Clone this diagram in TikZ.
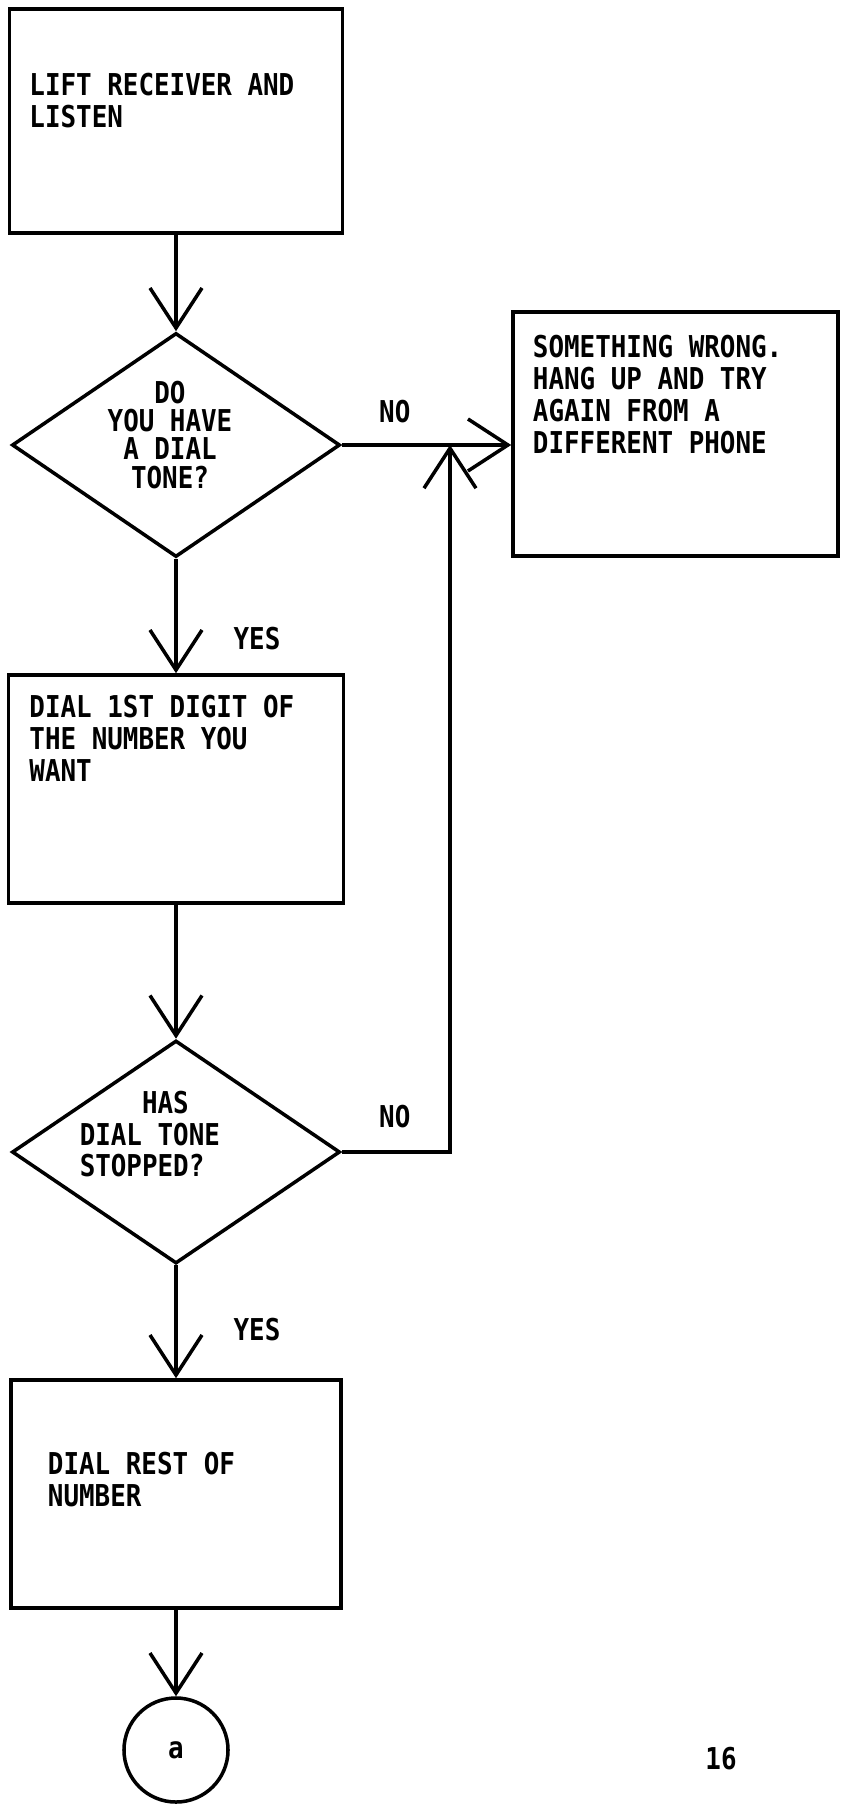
\documentclass[tikz,border=0pt]{standalone}
\usepackage{fontspec}
\newfontfamily\tw[FakeStretch=0.86]{DejaVu Sans Mono}
\usetikzlibrary{shapes.geometric,arrows.meta,positioning}

\tikzset{
  box/.style={draw, rectangle, inner sep=0pt},
  ask/.style={draw, diamond, inner sep=0pt},
  txt/.style={font=\tw\bfseries\fontsize{21.4}{22.7}\selectfont, inner sep=0pt, align=left},
  arr/.style={-{Straight Barb[length=1cm,width=1.3cm]}},
}

\begin{document}
\begin{tikzpicture}[x=0.025cm, y=-0.025cm, line width=2.5pt, line join=miter]
  \useasboundingbox (0,0) rectangle (841,1805);
  % the steps, top to bottom
  \node[box, minimum width=8.325cm, minimum height=5.6cm] (lift) at (176,121) {};
  \node[ask, minimum width=8.2cm, minimum height=5.6cm] (tone) at (176,445) {};
  \node[box, minimum width=8.125cm, minimum height=6.1cm] (wrong) at (675.5,434) {};
  \node[box, minimum width=8.375cm, minimum height=5.7cm] (first) at (176,789) {};
  \node[ask, minimum width=8.2cm, minimum height=5.575cm] (stop) at (176,1152) {};
  \node[box, minimum width=8.25cm, minimum height=5.7cm] (rest) at (176,1494) {};
  \node[draw, circle, txt, minimum size=2.6cm] (a) at (176,1750) {a};
  % what is written in them
  \node[txt, anchor=north west] (liftT) at ([shift={(20,64)}]lift.north west) {LIFT RECEIVER AND\\LISTEN};
  \node[txt, font=\tw\bfseries\fontsize{21.4}{20.2}\selectfont, align=center, anchor=north] (toneT)
    at ([shift={(-6,-66)}]tone.center) {DO\\YOU HAVE\\A DIAL\\TONE?};
  \node[txt, anchor=north west] (wrongT) at ([shift={(20,23)}]wrong.north west) {SOMETHING WRONG.\\HANG UP AND TRY\\AGAIN FROM A\\DIFFERENT PHONE};
  \node[txt, anchor=north west] (firstT) at ([shift={(21,20)}]first.north west) {DIAL 1ST DIGIT OF\\THE NUMBER YOU\\WANT};
  \node[txt, anchor=north west] (stopT) at ([shift={(-98,-63)}]stop.center) {\hphantom{DIAL}HAS\\DIAL TONE\\STOPPED?};
  \node[txt, anchor=north west] (restT) at ([shift={(37,72)}]rest.north west) {DIAL REST OF\\NUMBER};
  % the arrows
  \draw[arr] (lift.south) -- (tone.north);
  \draw[arr] (tone.east) -- (tone.east -| wrong.west);
  \draw[arr] (tone.south) -- (first.north);
  \draw[arr] (first.south) -- (stop.north);
  \draw[arr] (stop.south) -- (rest.north);
  \draw[arr] (rest.south) -- (a.north);
  \coordinate (merge) at (450,445);
  \draw[arr] (stop.east) -| (merge);
  % yes / no and the page number
  \node[txt] (no1) at ([shift={(53,-33)}]tone.east) {NO};
  \node[txt] (no2) at ([shift={(53,-35)}]stop.east) {NO};
  \node[txt] (yes1) at ([shift={(81,-35)}]first.north) {YES};
  \node[txt] (yes2) at ([shift={(81,-49)}]rest.north) {YES};
  \node[txt] (page) at (721,1759) {16};
\end{tikzpicture}
\end{document}
